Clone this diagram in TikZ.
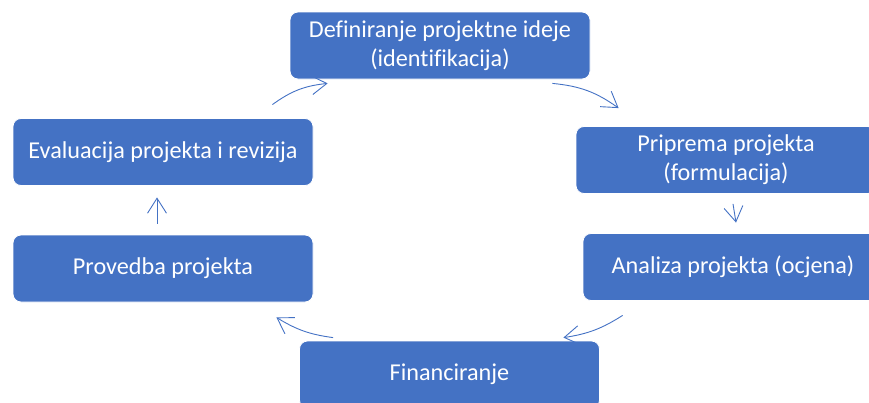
\documentclass[tikz,border=0pt]{standalone}
\usepackage{fontspec}
\setmainfont{Carlito}[Ligatures=NoCommon]
\usepackage{xcolor}
\usetikzlibrary{positioning,calc,arrows.meta}
\definecolor{boxblue}{HTML}{4472C4}

\begin{document}
\begin{tikzpicture}[
  x=1pt, y=-1pt,
  every node/.style={
    rectangle,
    rounded corners=8pt,
    draw=white,
    line width=0.8pt,
    fill=boxblue,
    text=white,
    align=center,
    minimum width=300pt,
    minimum height=67pt,
    font=\fontsize{24.2}{29}\selectfont
  },
  arrow/.style={-{Straight Barb[length=15pt,width=19pt]}, draw=boxblue, line width=0.9pt}
]
  \useasboundingbox (0,0) rectangle (869,402);
  \clip (0,0) rectangle (869,402);

  \node (Def)  at (440,45.5)  {Definiranje projektne ideje\\(identifikacija)};
  \node (Prip) at (726,160)   {Priprema projekta\\(formulacija)};
  \node (Anal) at (733,267)   {Analiza projekta (ocjena)};
  \node (Fin)  at (449.5,374.5) {Financiranje};
  \node (Prov) at (163,268.5) {Provedba projekta};
  \node (Eval) at (163,152)   {Evaluacija projekta i revizija};

  \draw[arrow] ([shift={(-41,-13.5)}]Eval.north east) to[bend left=15] ([shift={(38,4)}]Def.south west);
  \draw[arrow] ([shift={(-38,4)}]Def.south east) to[bend left=15] ([shift={(43,-18)}]Prip.north west);
  \draw[arrow] ([shift={(7,10)}]Prip.south) -- ([shift={(3,-10.5)}]Anal.north);
  \draw[arrow] ([shift={(40,14.5)}]Anal.south west) to[bend left=12] ([shift={(-36.5,-3)}]Fin.north east);
  \draw[arrow] ([shift={(34,-3)}]Fin.north west) to[bend left=12] ([shift={(-37,15)}]Prov.south east);
  \draw[arrow] ([shift={(-6,-11)}]Prov.north) -- ([shift={(-6,11.5)}]Eval.south);

\end{tikzpicture}
\end{document}
